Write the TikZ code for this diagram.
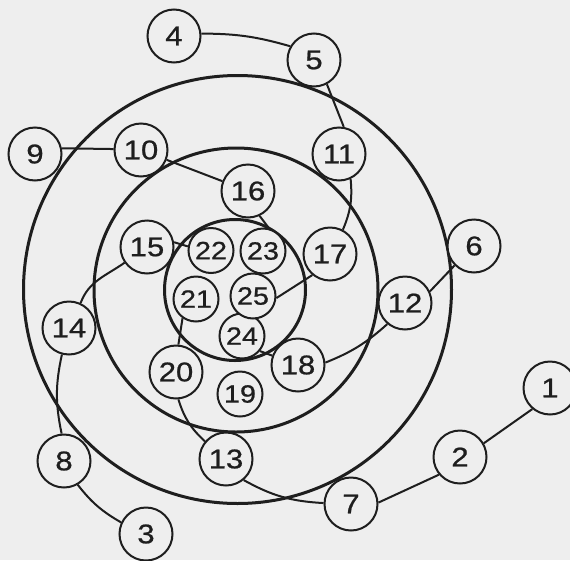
\documentclass[tikz,border=0pt]{standalone}
\usepackage{fontspec}
\setmainfont{Liberation Sans}[FakeStretch=1.15,FakeBold=0.8]
\definecolor{bgc}{RGB}{238,238,238}
\definecolor{inkc}{RGB}{30,30,30}
\begin{document}
\begin{tikzpicture}[x=1pt,y=1pt,
  ring/.style={draw=inkc, line width=3pt},
  edge/.style={draw=inkc, line width=2pt},
  bignode/.style={circle, draw=inkc, line width=2pt, fill=bgc, minimum size=53pt, inner sep=0pt, font=\fontsize{27}{27}\selectfont, text=inkc},
  smallnode/.style={bignode, minimum size=45pt, font=\fontsize{25}{25}\selectfont}
]
\fill[bgc] (0,0) rectangle (570,-560);
\useasboundingbox (0,0) rectangle (570,-560);

% rings
\draw[ring] (237.5,-289.5) circle[radius=214pt];
\draw[ring] (236,-290) circle[radius=142pt];
\draw[ring] (235,-290) circle[radius=70.5pt];

% nodes
\node[bignode] (n1) at (550,-388) {1};
\node[bignode] (n2) at (460,-457) {2};
\node[bignode] (n3) at (146,-534) {3};
\node[bignode] (n4) at (174,-36) {4};
\node[bignode] (n5) at (314,-60) {5};
\node[bignode] (n6) at (474,-246) {6};
\node[bignode] (n7) at (351,-504) {7};
\node[bignode] (n8) at (64,-461) {8};
\node[bignode] (n9) at (35,-154) {9};
\node[bignode] (n10) at (141,-150) {10};
\node[bignode] (n11) at (339,-154) {11};
\node[bignode] (n12) at (405,-303) {12};
\node[bignode] (n13) at (226,-459) {13};
\node[bignode] (n14) at (69,-328) {14};
\node[bignode] (n15) at (147,-247) {15};
\node[bignode] (n16) at (248,-191) {16};
\node[bignode] (n17) at (330,-254) {17};
\node[bignode] (n18) at (298,-365) {18};
\node[smallnode] (n19) at (240,-394) {19};
\node[bignode] (n20) at (176,-372) {20};
\node[smallnode] (n21) at (196,-299) {21};
\node[smallnode] (n22) at (211,-250.5) {22};
\node[smallnode] (n23) at (263,-251) {23};
\node[smallnode] (n24) at (242,-336) {24};
\node[smallnode] (n25) at (253,-296) {25};

% connectors
\draw[edge] (n1.-130) -- (n2.30);
\draw[edge] (n2.-140) -- (n7.3);
\draw[edge] (n13.-50) to[bend right=13] (n7.178);
\draw[edge] (n8.-60) to[bend right=11] (n3.155);
\draw[edge] (n14.-105) to[bend right=12] (n8.95);
\draw[edge] (n14.65) to[out=70,in=215] (n15.-145);
\draw[edge] (n9.12) -- (n10.178);
\draw[edge] (n10) -- (n16);
\draw[edge] (n4.5) to[bend left=8] (n5.150);
\draw[edge] (n5.-62) -- (n11.80);
\draw[edge] (n11.-65) to[bend left=14] (n17.62);
\draw[edge] (n6.-135) -- (n12.25);
\draw[edge] (n12.-130) to[bend left=10] (n18.5);
\draw[edge] (n20.-85) to[bend right=15] (n13.140);
\draw[edge] (n15.10) -- (n22.170);
\draw[edge] (n16.-65) -- (n23.75);
\draw[edge] (n17.-130) -- (n25.-5);
\draw[edge] (n24.-40) -- (n18.160);
\draw[edge] (n20.85) -- (n21.-125);
\end{tikzpicture}
\end{document}
